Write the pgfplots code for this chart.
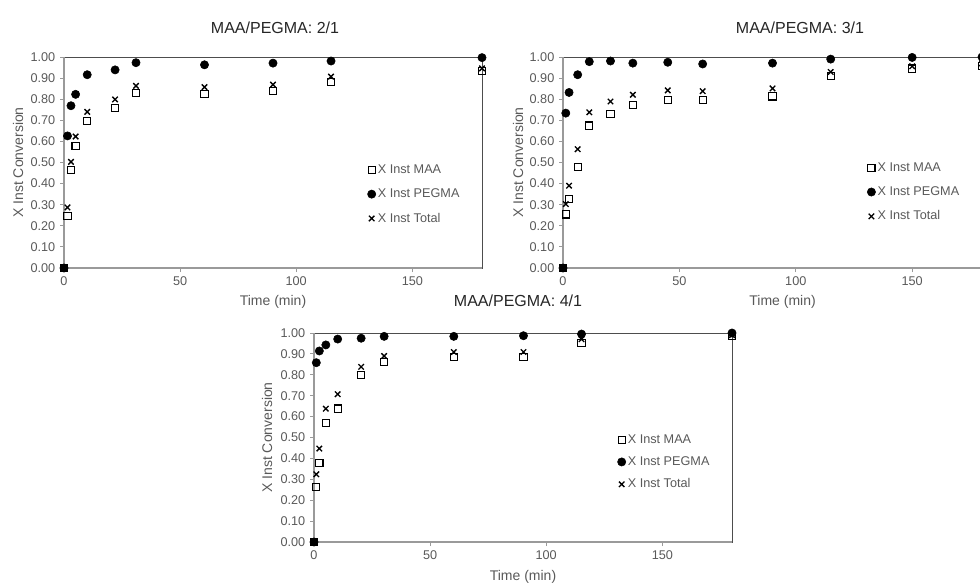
\documentclass[border=0pt]{standalone}
\usepackage{fontspec}
\setmainfont{Liberation Sans}
\usepackage{pgfplots}
\usepackage{pgfplotstable}
\pgfplotsset{compat=1.18}

\definecolor{axisgray}{HTML}{9A9A9A}
\definecolor{framegray}{HTML}{4D4D4D}
\definecolor{labelgray}{HTML}{595959}
\definecolor{titlegray}{HTML}{262626}

% Instantaneous conversion vs time: t, MAA, PEGMA, total
\pgfplotstableread{
t     maa    peg    tot
0     0      0      0
1.5   0.247  0.626  0.287
3     0.463  0.769  0.503
5     0.578  0.823  0.623
10    0.696  0.916  0.740
22    0.758  0.939  0.799
31    0.828  0.973  0.863
60.5  0.825  0.963  0.857
90    0.838  0.971  0.869
115   0.883  0.981  0.907
180   0.935  0.997  0.946
}\ratioA

\pgfplotstableread{
t     maa    peg    tot
0     0      0      0
1.2   0.254  0.734  0.303
2.6   0.326  0.832  0.390
6.3   0.480  0.916  0.563
11.3  0.675  0.978  0.738
20.4  0.731  0.981  0.789
30    0.773  0.971  0.821
45    0.797  0.975  0.842
60    0.796  0.967  0.838
90    0.813  0.971  0.851
115   0.911  0.990  0.929
150   0.945  0.998  0.956
180   0.956  1.000  0.970
}\ratioB

\pgfplotstableread{
t     maa    peg    tot
0     0      0      0
1     0.262  0.858  0.324
2.3   0.377  0.914  0.447
5.1   0.569  0.943  0.638
10.2  0.638  0.971  0.707
20.3  0.798  0.975  0.838
30.2  0.862  0.984  0.890
60.2  0.886  0.984  0.909
90.2  0.886  0.987  0.909
115.2 0.952  0.995  0.970
180   0.985  1.000  0.990
}\ratioC

\pgfplotsset{
  convplot/.style={
    scale only axis,
    width=313.5pt, height=158.25pt,
    anchor=south west,
    xmin=0, xmax=180, ymin=0, ymax=1,
    xtick={0,50,100,150},
    ytick={0,0.1,0.2,0.3,0.4,0.5,0.6,0.7,0.8,0.9,1.0},
    tick align=outside, tick pos=left,
    major tick length=3pt,
    axis line style={draw=framegray, line width=0.6pt},
    every tick/.style={axisgray, line width=0.7pt},
    /pgf/number format/assume math mode=true,
    ticklabel style={font=\fontsize{9.5}{11}\selectfont, text=labelgray},
    yticklabel style={/pgf/number format/fixed, /pgf/number format/fixed zerofill,
      /pgf/number format/precision=2},
    xlabel={Time (min)}, ylabel={X Inst Conversion},
    label style={font=\fontsize{10.5}{12}\selectfont, text=labelgray},
    clip=false,
    legend cell align=left,
    legend image code/.code={\draw[#1] plot coordinates {(0pt,0pt)};},
    legend style={draw=none, fill=none, anchor=north west, row sep=8pt,
      font=\fontsize{9.5}{11}\selectfont, text=labelgray,
      nodes={inner xsep=1.5pt, inner ysep=1pt}},
  },
  maa/.style={only marks, mark=square, mark size=2.7pt,
    mark options={draw=black, fill=none, line width=0.85pt}},
  peg/.style={only marks, mark=*, mark size=3.1pt,
    mark options={draw=black, fill=black}},
  tot/.style={only marks, mark=x, mark size=2.9pt,
    mark options={draw=black, line width=1pt}},
}

\newcommand{\leftbottom}{%
  \draw[axisgray, line width=0.9pt] (rel axis cs:0,1) -- (rel axis cs:0,0) -- (rel axis cs:1,0);}

\begin{document}
\begin{tikzpicture}
\clip (0,0) rectangle (735pt,440.25pt);

% ratio 2/1
\begin{axis}[convplot, at={(48pt,239.25pt)},
  xlabel style={at={(axis description cs:0.5,-0.16)}, anchor=center},
  ylabel style={at={(axis description cs:-0.11,0.5)}, anchor=center},
  legend style={at={(axis description cs:0.716,0.51)}}]
\leftbottom
\addplot[maa] table[x=t, y=maa] {\ratioA};
\addplot[peg] table[x=t, y=peg] {\ratioA};
\addplot[tot] table[x=t, y=tot] {\ratioA};
\legend{X Inst MAA, X Inst PEGMA, X Inst Total}
\end{axis}

% ratio 3/1
\begin{axis}[convplot, at={(422.25pt,239.25pt)}, width=314.25pt,
  xlabel style={at={(axis description cs:0.524,-0.16)}, anchor=center},
  ylabel style={at={(axis description cs:-0.107,0.5)}, anchor=center},
  legend style={at={(axis description cs:0.716,0.52)}}]
\leftbottom
\addplot[maa] table[x=t, y=maa] {\ratioB};
\addplot[peg] table[x=t, y=peg] {\ratioB};
\addplot[tot] table[x=t, y=tot] {\ratioB};
\legend{X Inst MAA, X Inst PEGMA, X Inst Total}
\end{axis}

% ratio 4/1
\begin{axis}[convplot, at={(235.5pt,33.75pt)}, height=156.75pt,
  xlabel style={at={(axis description cs:0.5,-0.167)}, anchor=center},
  ylabel style={at={(axis description cs:-0.112,0.5)}, anchor=center},
  legend style={at={(axis description cs:0.716,0.535)}, row sep=6.5pt}]
\leftbottom
\addplot[maa] table[x=t, y=maa] {\ratioC};
\addplot[peg] table[x=t, y=peg] {\ratioC};
\addplot[tot] table[x=t, y=tot] {\ratioC};
\legend{X Inst MAA, X Inst PEGMA, X Inst Total}
\end{axis}

\node[font=\fontsize{12}{14}\selectfont, text=titlegray] at (206.25pt,419.25pt) {MAA/PEGMA: 2/1};
\node[font=\fontsize{12}{14}\selectfont, text=titlegray] at (600pt,419.25pt) {MAA/PEGMA: 3/1};
\node[font=\fontsize{12}{14}\selectfont, text=titlegray] at (388.5pt,214.5pt) {MAA/PEGMA: 4/1};
\end{tikzpicture}
\end{document}
